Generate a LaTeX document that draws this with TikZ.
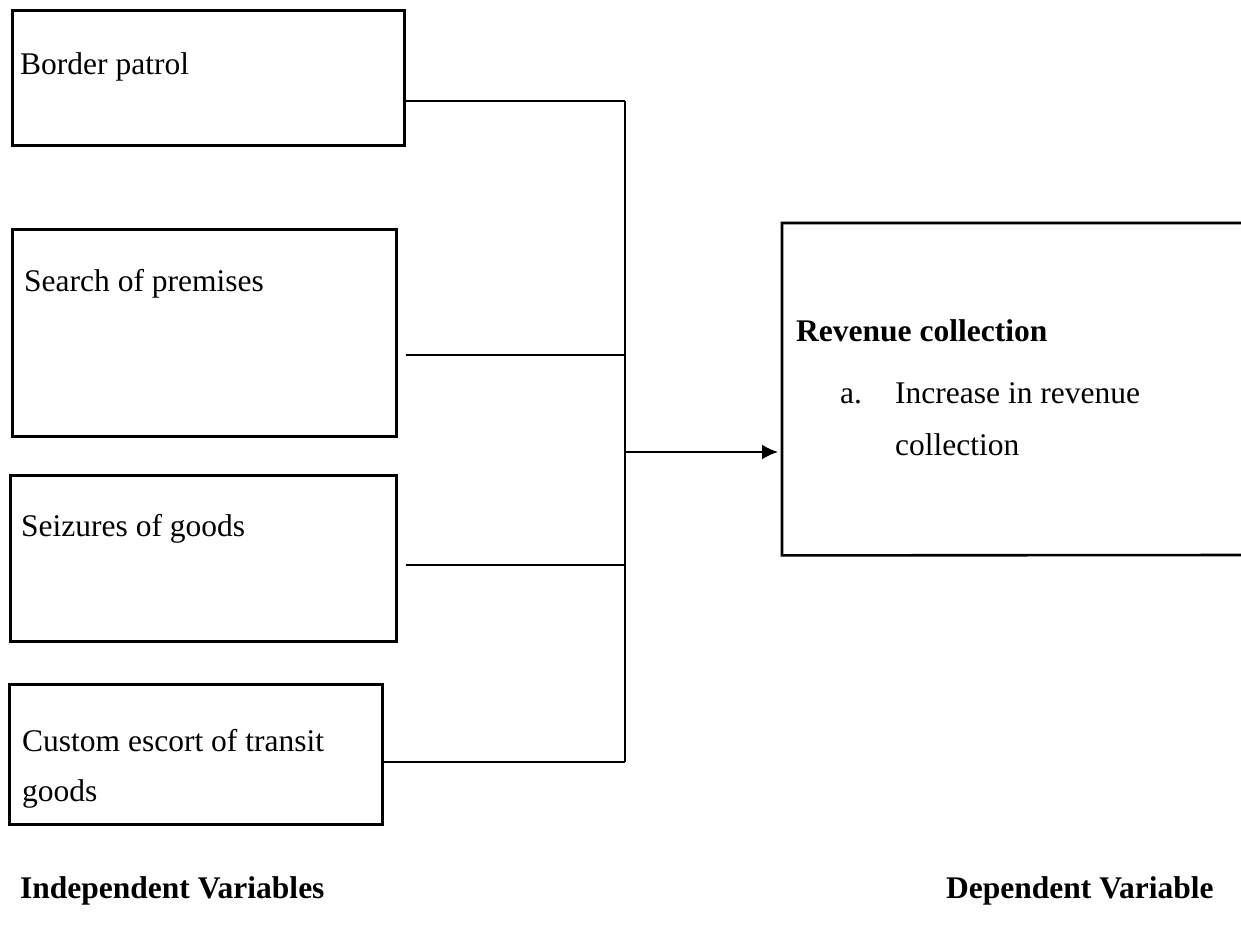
\documentclass[tikz,border=0pt]{standalone}
\usepackage{fontspec}
\setmainfont{Liberation Serif}
\usetikzlibrary{arrows.meta}
\begin{document}
\begin{tikzpicture}[x=1pt,y=-1pt,
  box/.style={draw, line width=2.6pt, rectangle, anchor=north west, inner sep=0pt},
  lbl/.style={anchor=base west, inner sep=0pt, font=\fontsize{31.5}{38}\selectfont},
  blbl/.style={lbl, font=\fontsize{31.5}{38}\selectfont\bfseries},
  conn/.style={line width=2pt},
]
\useasboundingbox (0,0) rectangle (1241,927);
% boxes
\node[box, minimum width=392pt, minimum height=135pt] (b1) at (11,9) {};
\node[box, minimum width=384pt, minimum height=207pt] (b2) at (11,228) {};
\node[box, minimum width=386pt, minimum height=166pt] (b3) at (9,474) {};
\node[box, minimum width=373pt, minimum height=140pt] (b4) at (8,683) {};
\node[anchor=north west, minimum width=470pt, minimum height=332pt, inner sep=0pt] (rev) at (782,223) {};
\draw[line width=2.6pt] (1245,223) -- (rev.north west) -- (rev.south west) -- (1245,555);
% labels
\node[lbl] (t1) at (20,74) {Border patrol};
\node[lbl] (t2) at (24,291) {Search of premises};
\node[lbl] (t3) at (21,536) {Seizures of goods};
\node[lbl] (t4) at (22,751) {Custom escort of transit};
\node[lbl] (t4b) at (22,801) {goods};
\node[blbl] (tr) at (796,341) {Revenue collection};
\node[lbl] (ta) at (840,403) {a.};
\node[lbl] (tb) at (895,403) {Increase in revenue};
\node[lbl] (tc) at (895,455) {collection};
\node[blbl] (iv) at (20,898) {Independent Variables};
\node[blbl] (dv) at (946,898) {Dependent Variable};
% connectors
\coordinate (j1) at (625,101);
\coordinate (j2) at (625,355);
\coordinate (j3) at (625,565);
\coordinate (j4) at (625,762);
\coordinate (jm) at (625,452);
\draw[conn] (b1.east |- j1) -- (j1);
\draw[conn] ([xshift=8pt]b2.east |- j2) -- (j2);
\draw[conn] ([xshift=8pt]b3.east |- j3) -- (j3);
\draw[conn] (b4.east |- j4) -- (j4);
\draw[conn] (j1) -- (j4);
\draw[conn, -{Latex[length=16pt,width=15pt]}] (jm) -- ([xshift=-4pt]rev.west |- jm);
\end{tikzpicture}
\end{document}
